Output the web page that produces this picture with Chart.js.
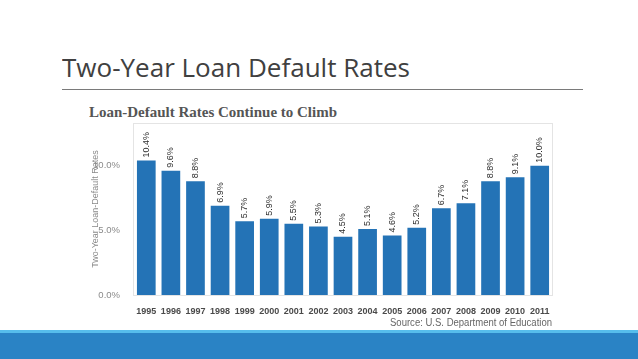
<!DOCTYPE html>
<html>
<head>
<meta charset="utf-8">
<script src="https://cdn.jsdelivr.net/npm/chart.js@4.4.0/dist/chart.umd.min.js"></script>
<style>
  html, body { margin: 0; padding: 0; background: #fff; }
  body { width: 638px; height: 359px; position: relative; overflow: hidden; }
  #c { position: absolute; left: 0; top: 0; }
  .txt { position: absolute; white-space: nowrap; transform-origin: 0 0; line-height: 1; }
  #title { left: 62px; top: 54px; font-family: "Open Sans", sans-serif; font-size: 26px; color: #404040; }
  #rule { position: absolute; left: 62px; top: 89px; width: 521px; height: 1px; background: #7a7a7a; }
  #sub { left: 89px; top: 105px; font-family: "Liberation Serif", serif; font-weight: bold; font-size: 15px; color: #555; }
  #src { left: 390px; top: 318px; font-family: "Liberation Sans", Arial, sans-serif; font-size: 10px; color: #666; }
  #lightline { position: absolute; left: 0; top: 330px; width: 638px; height: 3px; background: #56bdec; }
  #band { position: absolute; left: 0; top: 333px; width: 638px; height: 26px; background: #2a83c5; }
</style>
</head>
<body>
<div id="title" class="txt" data-w="348">Two-Year Loan Default Rates</div>
<div id="rule"></div>
<div id="sub" class="txt" data-w="248">Loan-Default Rates Continue to Climb</div>
<canvas id="c" width="638" height="359"></canvas>
<div id="src" class="txt" data-w="162">Source: U.S. Department of Education</div>
<div id="lightline"></div>
<div id="band"></div>
<script>
const years = ["1995","1996","1997","1998","1999","2000","2001","2002","2003","2004","2005","2006","2007","2008","2009","2010","2011"];
const rates = [10.4, 9.6, 8.8, 6.9, 5.7, 5.9, 5.5, 5.3, 4.5, 5.1, 4.6, 5.2, 6.7, 7.1, 8.8, 9.1, 10.0];
const yTicks = [0, 5, 10];
const yTitle = "Two-Year Loan-Default Rates";

document.querySelectorAll('.txt').forEach(el => {
  const w = el.getBoundingClientRect().width;
  const target = parseFloat(el.dataset.w);
  el.style.transform = 'scaleX(' + (target / w) + ')';
});

const labelPlugin = {
  id: 'barLabels',
  afterDatasetsDraw(chart) {
    const ctx = chart.ctx;
    const meta = chart.getDatasetMeta(0);
    ctx.save();
    ctx.font = '9px "Liberation Sans", Arial, sans-serif';
    ctx.fillStyle = '#2e2e2e';
    ctx.textAlign = 'left';
    ctx.textBaseline = 'middle';
    meta.data.forEach((bar, i) => {
      ctx.save();
      ctx.translate(bar.x, bar.y - 3);
      ctx.rotate(-Math.PI / 2);
      ctx.fillText(rates[i].toFixed(1) + '%', 0, 0);
      ctx.restore();
    });
    ctx.restore();
  }
};
const borderPlugin = {
  id: 'plotBorder',
  beforeDatasetsDraw(chart) {
    const a = chart.chartArea;
    const ctx = chart.ctx;
    ctx.save();
    ctx.strokeStyle = '#e4e4e4';
    ctx.lineWidth = 1;
    ctx.strokeRect(Math.round(a.left) - 0.5, Math.round(a.top) + 0.5, Math.round(a.right - a.left) + 1, Math.round(a.bottom - a.top));
    ctx.restore();
  }
};

new Chart(document.getElementById('c'), {
  type: 'bar',
  data: {
    labels: years,
    datasets: [{
      data: rates,
      backgroundColor: '#2473b6',
      borderWidth: 0,
      categoryPercentage: 1,
      barPercentage: 0.76
    }]
  },
  options: {
    responsive: false,
    devicePixelRatio: 1,
    animation: false,
    layout: { padding: { left: 86, top: 123, right: 86, bottom: 0 } },
    plugins: { legend: { display: false }, tooltip: { enabled: false } },
    scales: {
      x: {
        grid: { display: false },
        border: { display: false },
        ticks: { color: '#4a4a4a', font: { family: '"Liberation Sans", Arial, sans-serif', size: 9, weight: 'bold' }, padding: 3, maxRotation: 0, autoSkip: false },
        afterFit(scale) { scale.height = 64; }
      },
      y: {
        min: 0,
        max: 13.3,
        grid: { display: false },
        border: { display: false },
        ticks: {
          color: '#8a8a8a',
          font: { family: '"Liberation Sans", Arial, sans-serif', size: 9.5 },
          padding: 6,
          callback: v => Number(v).toFixed(1) + '%'
        },
        afterBuildTicks(scale) { scale.ticks = yTicks.map(v => ({ value: v })); },
        title: {
          display: true,
          text: yTitle,
          color: '#8a8a8a',
          font: { family: '"Liberation Sans", Arial, sans-serif', size: 9 },
          padding: { top: 4, bottom: 0 }
        },
        afterFit(scale) { scale.width = 48; }
      }
    }
  },
  plugins: [labelPlugin, borderPlugin]
});
</script>
</body>
</html>
